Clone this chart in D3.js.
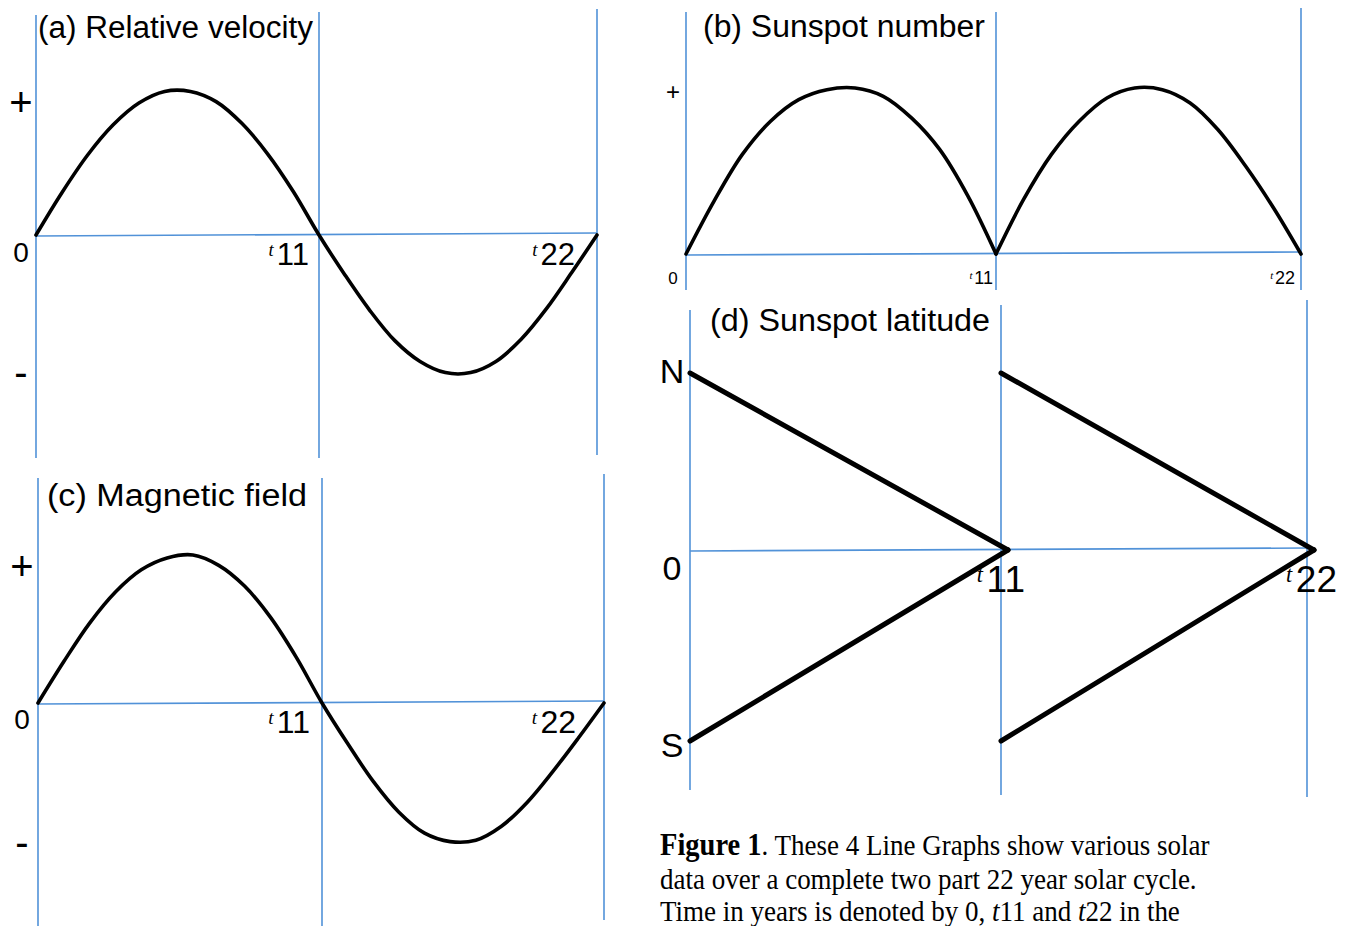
<!DOCTYPE html>
<html>
<head>
<meta charset="utf-8">
<script src="https://cdn.jsdelivr.net/npm/d3@7"></script>
<style>
  body { margin: 0; background: #fff; }
  svg { display: block; }
  .guide { stroke: #5192d8; stroke-width: 1.6; fill: none; }
  .curve { stroke: #000; fill: none; stroke-linecap: round; stroke-linejoin: round; }
  text { font-family: "Liberation Sans", Arial, Helvetica, sans-serif; fill: #000; }
  .caption { font-family: "Liberation Serif", "Times New Roman", serif; }
</style>
</head>
<body>
<svg width="1352" height="926"></svg>
<script>
// Time in years
const years = [0, 1, 2, 3, 4, 5, 6, 7, 8, 9, 10, 11, 12, 13, 14, 15, 16, 17, 18, 19, 20, 21, 22];
const cycleA = [0, 1, 2, 3, 4, 5, 6, 7, 8, 9, 10, 11];
const cycleB = [11, 12, 13, 14, 15, 16, 17, 18, 19, 20, 21, 22];

// (a) relative velocity (+1 = peak, -1 = trough)
const velocity = [0, 0.29, 0.55, 0.76, 0.91, 0.99, 0.99, 0.92, 0.77, 0.56, 0.30, 0.0,
                  -0.28, -0.54, -0.76, -0.91, -0.99, -0.99, -0.91, -0.75, -0.53, -0.27, 0.0];
// (c) magnetic field
const magnetic = [0, 0.28, 0.54, 0.75, 0.90, 0.98, 1.0, 0.93, 0.79, 0.58, 0.31, 0.0,
                  -0.29, -0.56, -0.78, -0.93, -0.99, -0.98, -0.88, -0.71, -0.49, -0.25, 0.0];
// (b) sunspot number, two arches
const sunspotFirst = [0, 0.32, 0.60, 0.80, 0.93, 0.99, 1.0, 0.95, 0.82, 0.63, 0.35, 0];
const sunspotSecond = [0, 0.33, 0.60, 0.80, 0.94, 1.0, 0.99, 0.91, 0.75, 0.53, 0.28, 0];
// (d) sunspot latitude, straight drifts towards the equator
const latStartYears = [0, 0, 11, 11];
const latStartValues = [1, -1, 1, -1];
const latEndYears = [11, 11, 22, 22];
const latEndValues = [0, 0, 0, 0];

const titles = ["(a) Relative velocity", "(b) Sunspot number", "(c) Magnetic field", "(d) Sunspot latitude"];
const tickYears = [11, 22];
const tickLabels = ["11", "22"];
const signLabels = ["+", "0", "-"];
const latLabels = ["N", "0", "S"];
const signValues = [1, 0, -1];

const svg = d3.select("svg");

function panel(cfg) {
    const g = svg.append("g");
    const x = d3.scaleLinear().domain([0, 11, 22]).range(cfg.xs);
    const y = d3.scaleLinear().domain([-1, 0, 1]).range([cfg.yMin, cfg.yZero, cfg.yMax]);

    // vertical guides at 0, 11, 22
    g.selectAll("line.v").data([0, 11, 22]).enter().append("line")
        .attr("class", "guide")
        .attr("x1", d => x(d)).attr("x2", d => x(d))
        .attr("y1", (d, i) => cfg.vTop[i]).attr("y2", (d, i) => cfg.vBottom[i]);
    // zero line (hand drawn, a little tilted)
    g.append("line").attr("class", "guide")
        .attr("x1", x(0)).attr("x2", x(22))
        .attr("y1", y(0) + 1).attr("y2", y(0) - 2);

    // title
    g.append("text").attr("x", cfg.titleX).attr("y", cfg.titleY)
        .attr("font-size", 31)
        .attr("textLength", cfg.titleW).attr("lengthAdjust", "spacingAndGlyphs")
        .text(cfg.title);

    // y labels
    g.selectAll("text.ylab").data(cfg.yLabels).enter().append("text")
        .attr("x", cfg.yLabelX)
        .attr("y", (d, i) => y(signValues[i]) + cfg.yLabelDy[i])
        .attr("text-anchor", "middle")
        .attr("font-size", (d, i) => cfg.yLabelSize[i])
        .text(d => d);

    // x labels  (t11, t22)
    const xl = g.selectAll("text.xlab").data(tickYears).enter().append("text")
        .attr("x", (d, i) => x(d) + cfg.tickDx[i])
        .attr("y", y(0) + cfg.tickDy)
        .attr("text-anchor", "end");
    xl.append("tspan").attr("font-size", cfg.tickSize * 0.6).attr("font-style", "italic")
        .attr("font-family", "Liberation Serif, serif")
        .attr("dy", -cfg.tickSize * 0.28).text("t");
    xl.append("tspan").attr("font-size", cfg.tickSize)
        .attr("dx", cfg.tickSize * 0.1)
        .attr("dy", cfg.tickSize * 0.28).text((d, i) => tickLabels[i]);

    return { g, x, y };
}

// (a)
const pa = panel({
    xs: [36, 319, 597], yZero: 235, yMax: 90, yMin: 374,
    vTop: [15, 12, 9], vBottom: [458, 458, 455],
    title: titles[0], titleX: 38, titleY: 38, titleW: 275,
    yLabels: signLabels, yLabelX: 21, yLabelDy: [26, 27, 12], yLabelSize: [40, 28, 40],
    tickDx: [-10, -22], tickDy: 30, tickSize: 31
});
pa.g.append("path").datum(years).attr("class", "curve").attr("stroke-width", 3.6)
    .attr("d", d3.line().curve(d3.curveCatmullRom).x(d => pa.x(d)).y((d, i) => pa.y(velocity[i])));

// (c)
const pc = panel({
    xs: [38, 322, 604], yZero: 703, yMax: 555, yMin: 843,
    vTop: [478, 478, 474], vBottom: [926, 926, 920],
    title: titles[2], titleX: 47, titleY: 506, titleW: 260,
    yLabels: signLabels, yLabelX: 22, yLabelDy: [25, 26, 13], yLabelSize: [40, 28, 40],
    tickDx: [-12, -28], tickDy: 30, tickSize: 32
});
pc.g.append("path").datum(years).attr("class", "curve").attr("stroke-width", 3.6)
    .attr("d", d3.line().curve(d3.curveCatmullRom).x(d => pc.x(d)).y((d, i) => pc.y(magnetic[i])));

// (b)
const pb = panel({
    xs: [686, 996, 1301], yZero: 254, yMax: 88, yMin: 420,
    vTop: [12, 12, 8], vBottom: [290, 290, 290],
    title: titles[1], titleX: 703, titleY: 37, titleW: 282,
    yLabels: ["+", "0"], yLabelX: 673, yLabelDy: [12, 30], yLabelSize: [24, 17],
    tickDx: [-3, -6], tickDy: 30, tickSize: 18
});
const arch = (cyc, vals) => d3.line().curve(d3.curveCatmullRom)
    .x(d => pb.x(d)).y((d, i) => pb.y(vals[i]))(cyc);
pb.g.append("path").attr("class", "curve").attr("stroke-width", 3.6).attr("d", arch(cycleA, sunspotFirst));
pb.g.append("path").attr("class", "curve").attr("stroke-width", 3.6).attr("d", arch(cycleB, sunspotSecond));

// (d)
const pd = panel({
    xs: [690, 1001, 1307], yZero: 550, yMax: 373, yMin: 741,
    vTop: [310, 305, 300], vBottom: [790, 795, 797],
    title: titles[3], titleX: 710, titleY: 331, titleW: 280,
    yLabels: latLabels, yLabelX: 672, yLabelDy: [10, 30, 16], yLabelSize: [34, 34, 34],
    tickDx: [24, 30], tickDy: 42, tickSize: 37
});
pd.g.selectAll("line.lat").data(latStartYears).enter().append("line")
    .attr("class", "curve").attr("stroke-width", 5).attr("stroke-linecap", "butt")
    .attr("x1", d => pd.x(d))
    .attr("y1", (d, i) => pd.y(latStartValues[i]))
    .attr("x2", (d, i) => pd.x(latEndYears[i]) + 7)
    .attr("y2", (d, i) => pd.y(latEndValues[i]));

// caption (slightly stretched vertically, as printed)
const capLines = [
    [["Figure 1", "bold", "normal"], [". These 4 Line Graphs show various solar", "normal", "normal"]],
    [["data over a complete two part 22 year solar cycle.", "normal", "normal"]],
    [["Time in years is denoted by 0, ", "normal", "normal"], ["t", "normal", "italic"], ["11 and ", "normal", "normal"],
     ["t", "normal", "italic"], ["22 in the", "normal", "normal"]]
];
const capY = [855, 889, 921];
capLines.forEach((ln, li) => {
    const t = svg.append("g").attr("transform", `translate(660,${capY[li]}) scale(1,1.08)`)
        .append("text").attr("class", "caption").attr("x", 0).attr("y", 0).attr("font-size", 27);
    ln.forEach(part => {
        const ts = t.append("tspan").attr("font-weight", part[1]).attr("font-style", part[2]).text(part[0]);
        if (part[1] === "bold") ts.attr("font-size", 28.5);
    });
});
</script>
</body>
</html>
